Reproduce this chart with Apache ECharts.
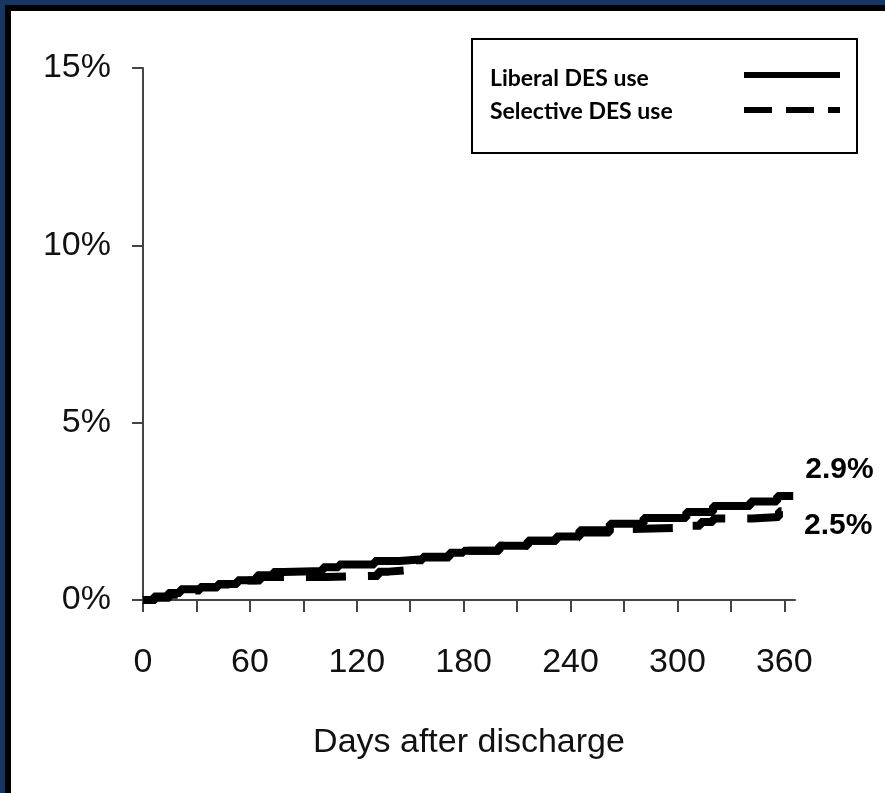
<!DOCTYPE html>
<html>
<head>
<meta charset="utf-8">
<script src="https://cdn.jsdelivr.net/npm/echarts@6/dist/echarts.min.js"></script>
<style>
  html, body { margin: 0; padding: 0; background: #fff; }
  #chart { width: 885px; height: 793px; }
</style>
</head>
<body>
<div id="chart"></div>
<script>
// cumulative incidence (%) by day, step points
const liberalDays = [0, 6, 14, 21, 32, 42, 53, 64, 73, 79, 101, 110, 130, 144, 157, 172, 180, 200, 216, 232, 245, 262, 281, 305, 320, 341, 356, 365]
const liberalVals = [0, 0.1, 0.2, 0.3, 0.37, 0.45, 0.56, 0.7, 0.79, 0.82, 0.92, 1.0, 1.1, 1.15, 1.22, 1.33, 1.39, 1.53, 1.67, 1.79, 1.97, 2.15, 2.31, 2.48, 2.65, 2.78, 2.93, 2.93]
const selectiveDays = [0, 7, 15, 22, 32, 42, 53, 66, 103, 132, 138, 150, 157, 172, 180, 200, 216, 232, 245, 262, 270, 300, 313, 320, 342, 357, 361]
const selectiveVals = [0, 0.06, 0.15, 0.27, 0.35, 0.44, 0.55, 0.65, 0.68, 0.8, 0.85, 1.12, 1.2, 1.33, 1.39, 1.53, 1.67, 1.77, 1.9, 2.0, 2.03, 2.09, 2.2, 2.3, 2.34, 2.5, 2.5]
const xTickValues = [0, 30, 60, 90, 120, 150, 180, 210, 240, 270, 300, 330, 360]
const xLabelValues = [0, 60, 120, 180, 240, 300, 360]
const seriesNames = ['Liberal DES use', 'Selective DES use']

const pairs = (xs, ys) => xs.map((x, i) => [x, ys[i]])

const chart = echarts.init(document.getElementById('chart'))
const axisFont = { fontFamily: 'Liberation Sans, Arial, sans-serif', fontSize: 34, color: '#111' }
const legendFont = 'bold 23px Lato, "Open Sans", sans-serif'

chart.setOption({
  animation: false,
  backgroundColor: '#fff',
  grid: { left: 143, top: 68, width: 652, height: 532 },
  graphic: [
    // frame strips along the top and left edge
    { type: 'rect', shape: { x: 0, y: 0, width: 885, height: 5 }, style: { fill: '#17375E' }, z: 100 },
    { type: 'rect', shape: { x: 0, y: 0, width: 5, height: 793 }, style: { fill: '#17375E' }, z: 100 },
    { type: 'rect', shape: { x: 5, y: 5, width: 880, height: 6 }, style: { fill: '#000' }, z: 100 },
    { type: 'rect', shape: { x: 5, y: 5, width: 6, height: 788 }, style: { fill: '#000' }, z: 100 },
    // legend box
    { type: 'rect', shape: { x: 472, y: 39, width: 385, height: 114 }, style: { fill: '#fff', stroke: '#000', lineWidth: 2 }, z: 50 },
    { type: 'text', style: { x: 490, y: 79, text: seriesNames[0], font: legendFont, fill: '#000', verticalAlign: 'middle' }, z: 51 },
    { type: 'text', style: { x: 490, y: 112, text: seriesNames[1], font: legendFont, fill: '#000', verticalAlign: 'middle' }, z: 51 },
    { type: 'line', shape: { x1: 744, y1: 75, x2: 840, y2: 75 }, style: { stroke: '#000', lineWidth: 6 }, z: 51 },
    { type: 'line', shape: { x1: 744, y1: 110, x2: 840, y2: 110 }, style: { stroke: '#000', lineWidth: 6, lineDash: [28, 14] }, z: 51 }
  ],
  xAxis: {
    type: 'value',
    min: 0,
    max: 366,
    name: 'Days after discharge',
    nameLocation: 'middle',
    nameGap: 126,
    nameTextStyle: axisFont,
    axisLine: { lineStyle: { color: '#444', width: 2 } },
    axisTick: { show: true, length: 12, customValues: xTickValues, lineStyle: { color: '#444', width: 2 } },
    axisLabel: { customValues: xLabelValues, margin: 46, ...axisFont },
    splitLine: { show: false }
  },
  yAxis: {
    type: 'value',
    min: 0,
    max: 15,
    interval: 5,
    axisLine: { show: true, lineStyle: { color: '#444', width: 2 } },
    axisTick: { show: true, length: 11, lineStyle: { color: '#444', width: 2 } },
    axisLabel: { formatter: '{value}%', margin: 32, ...axisFont },
    splitLine: { show: false }
  },
  series: [
    {
      name: seriesNames[0],
      type: 'line',
      step: 'end',
      symbol: 'none',
      data: pairs(liberalDays, liberalVals),
      lineStyle: { color: '#000', width: 8, cap: 'butt' },
      itemStyle: { color: '#000' },
      endLabel: {
        show: true,
        formatter: p => p.value[1].toFixed(1) + '%',
        offset: [4, -26],
        fontFamily: 'Liberation Sans, Arial, sans-serif',
        fontWeight: 'bold',
        fontSize: 30,
        color: '#000'
      }
    },
    {
      name: seriesNames[1],
      type: 'line',
      step: 'end',
      symbol: 'none',
      data: pairs(selectiveDays, selectiveVals),
      lineStyle: { color: '#000', width: 8, type: [40, 22], cap: 'butt' },
      itemStyle: { color: '#000' },
      endLabel: {
        show: true,
        formatter: p => p.value[1].toFixed(1) + '%',
        offset: [10, 14],
        fontFamily: 'Liberation Sans, Arial, sans-serif',
        fontWeight: 'bold',
        fontSize: 30,
        color: '#000'
      }
    }
  ]
})
</script>
</body>
</html>
